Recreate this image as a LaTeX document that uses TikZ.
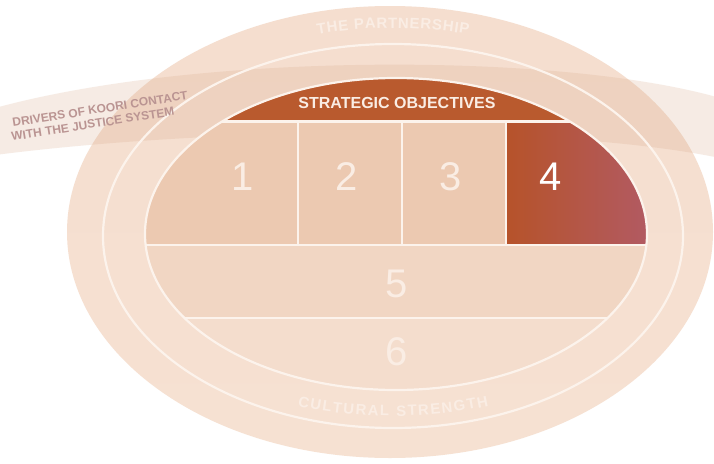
\documentclass[tikz,border=0pt]{standalone}
\usepackage{fontspec}
\setmainfont{Liberation Sans}
\usetikzlibrary{decorations.text,calc}
\definecolor{outtop}{HTML}{F5DECF}
\definecolor{outmid}{HTML}{F0D0BA}
\definecolor{outbot}{HTML}{F6E1D2}
\definecolor{bandcol}{HTML}{D8A888}
\definecolor{socol}{HTML}{B95A2E}
\definecolor{boxcol}{HTML}{ECC9B1}
\definecolor{fourL}{HTML}{B6532A}
\definecolor{fourR}{HTML}{B25A62}
\definecolor{rowfive}{HTML}{F1D6C3}
\definecolor{rowsix}{HTML}{F4DDCD}
\definecolor{ringcol}{HTML}{FCF3EC}
\definecolor{softwhite}{HTML}{FAEDE4}
\definecolor{drvcol}{RGB}{186,148,146}
\tikzset{
  wline/.style={draw=ringcol, line width=2.2pt},
  digit/.style={text=softwhite, font=\fontsize{40}{40}\selectfont, inner sep=0pt},
  sotext/.style={text=softwhite, font=\fontsize{16}{16}\selectfont\bfseries, inner sep=0pt},
  drvtext/.style={text=drvcol, font=\fontsize{12}{12}\selectfont\bfseries, inner sep=0pt, rotate=9, anchor=base west}
}
\begin{document}
\begin{tikzpicture}[x=1pt,y=1pt]
\clip (0,0) rectangle (714,-463);
\useasboundingbox (0,0) rectangle (714,-463);
\fill[white] (0,0) rectangle (714,-463);

% outer ellipse (the partnership)
\shade[top color=outtop, middle color=outmid, bottom color=outbot]
  (390,-232) ellipse [x radius=323pt, y radius=226pt];

% drivers band
\fill[bandcol, opacity=0.22]
  (-5,-108) .. controls (200,-52) and (560,-52) .. (720,-98)
  -- (720,-158) .. controls (560,-125) and (230,-125) .. (-5,-155) -- cycle;

% inner region
\begin{scope}
  \clip (396,-234) ellipse [x radius=251pt, y radius=156pt];
  \fill[socol] (100,-50) rectangle (700,-121);
  \fill[boxcol] (100,-121) rectangle (506,-245);
  \shade[left color=fourL, middle color=fourL, right color=fourR] (506,-121) rectangle (648,-245);
  \fill[rowfive] (100,-245) rectangle (700,-318);
  \fill[rowsix] (100,-318) rectangle (700,-400);
  \draw[wline, line width=3pt] (100,-121) -- (700,-121);
  \draw[wline] (100,-245) -- (700,-245);
  \draw[wline] (100,-318) -- (700,-318);
  \draw[wline] (298,-121) -- (298,-245);
  \draw[wline] (402,-121) -- (402,-245);
  \draw[wline] (506,-121) -- (506,-245);
\end{scope}
\draw[wline] (396,-234) ellipse [x radius=251pt, y radius=156pt];
\draw[wline] (393,-236) ellipse [x radius=290pt, y radius=192pt];

% texts
\node[sotext] (so) at (397,-103) {STRATEGIC OBJECTIVES};
\node[digit] (n1) at (243,-177) {1};
\node[digit] (n2) at (347,-177) {2};
\node[digit] (n3) at (451,-177) {3};
\node[digit, text=white] (n4) at (551,-177) {4};
\node[digit] (n5) at (397,-284) {5};
\node[digit] (n6) at (397,-352) {6};

\node[drvtext] (drvA) at (13,-127) {DRIVERS OF KOORI CONTACT};
\node[drvtext] (drvB) at (12,-141) {WITH THE JUSTICE SYSTEM};

\path[decorate, decoration={text along path, text align=center, text color=softwhite,
  text={|\fontsize{15}{15}\selectfont\bfseries|T{\kern0.7pt}H{\kern0.7pt}E{\kern0.7pt} {\kern0.7pt}P{\kern0.7pt}A{\kern0.7pt}R{\kern0.7pt}T{\kern0.7pt}N{\kern0.7pt}E{\kern0.7pt}R{\kern0.7pt}S{\kern0.7pt}H{\kern0.7pt}I{\kern0.7pt}P}}]
  ($(393,-236)+(125:305pt and 208pt)$) arc[start angle=125, end angle=55, x radius=305pt, y radius=208pt];

\path[decorate, decoration={text along path, text align=center, text color=softwhite,
  text={|\fontsize{15}{15}\selectfont\bfseries|C{\kern1.5pt}U{\kern1.5pt}L{\kern1.5pt}T{\kern1.5pt}U{\kern1.5pt}R{\kern1.5pt}A{\kern1.5pt}L{\kern1.5pt} {\kern1.5pt}S{\kern1.5pt}T{\kern1.5pt}R{\kern1.5pt}E{\kern1.5pt}N{\kern1.5pt}G{\kern1.5pt}T{\kern1.5pt}H}}]
  ($(393,-236)+(235:290pt and 180pt)$) arc[start angle=235, end angle=305, x radius=290pt, y radius=180pt];
\end{tikzpicture}
\end{document}
